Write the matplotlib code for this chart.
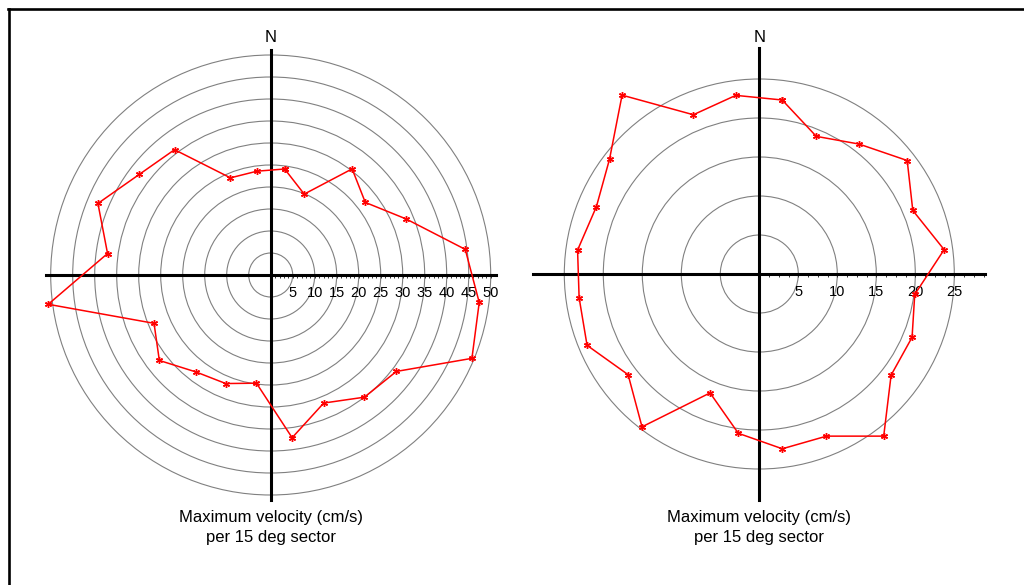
import numpy as np
import matplotlib
matplotlib.use("Agg")
import matplotlib.pyplot as plt
from matplotlib.patches import Circle
from matplotlib.lines import Line2D
import matplotlib.transforms as mtransforms

plt.rcParams['font.family'] = ['Liberation Sans', 'DejaVu Sans']

# sector centres (deg clockwise from N)
bearing = [7.5, 22.5, 37.5, 52.5, 67.5, 82.5, 97.5, 112.5, 127.5, 142.5, 157.5, 172.5,
           187.5, 202.5, 217.5, 232.5, 247.5, 262.5, 277.5, 292.5, 307.5, 322.5, 337.5, 352.5]

# max velocity (cm/s) per sector
vel_left = [24.3, 19.9, 30.4, 27.1, 33.3, 44.6, 47.8, 49.5, 36.0, 35.0, 31.5, 37.3,
            24.8, 26.7, 27.8, 31.9, 28.7, 51.0, 37.4, 42.5, 37.6, 35.9, 23.9, 23.8]
vel_right = [22.5, 19.1, 21.0, 23.9, 21.3, 23.9, 20.1, 21.2, 21.3, 26.2, 22.5, 22.6,
             20.6, 16.5, 24.7, 21.2, 23.9, 23.3, 23.5, 22.6, 24.2, 28.9, 22.1, 23.1]

rings_left = [5, 10, 15, 20, 25, 30, 35, 40, 45, 50]
rings_right = [5, 10, 15, 20, 25]
labels_left = ['5', '10', '15', '20', '25', '30', '35', '40', '45', '50']
labels_right = ['5', '10', '15', '20', '25']

caption = "Maximum velocity (cm/s)\nper 15 deg sector"

W, H = 1024, 585
fig = plt.figure(figsize=(W / 100, H / 100), dpi=100)


def rose(ax, vel, rings, labels, lim, axlen, minor_step, minor_max):
    ax.set_xlim(-lim, lim)
    ax.set_ylim(-lim, lim)
    ax.patch.set_visible(False)

    for r in rings:
        ax.add_patch(Circle((0, 0), r, fill=False, edgecolor='#808080', lw=0.8, zorder=1))

    th = np.deg2rad(bearing + bearing[:1])
    v = np.array(vel + vel[:1])
    ax.plot(v * np.sin(th), v * np.cos(th), color='red', lw=1.1, zorder=4,
            marker=(6, 2, 0), ms=5, mew=1.0, mec='red')

    for s in ['top', 'right']:
        ax.spines[s].set_visible(False)
    for s in ['left', 'bottom']:
        ax.spines[s].set_position('zero')
        ax.spines[s].set_bounds(-axlen, axlen)
        ax.spines[s].set_linewidth(2.2)
        ax.spines[s].set_zorder(3)

    ax.set_yticks([])
    ax.set_xticks(rings)
    ax.set_xticklabels(labels)
    ax.set_xticks(np.arange(minor_step, minor_max + 0.01, minor_step), minor=True)
    ax.tick_params(axis='x', which='both', direction='out', length=2.2, width=0.7,
                   color='#333333', labelsize=10.5, pad=6)


# left rose: 4.4 px per unit, centre at (270.7, 275)
s1, lim1 = 4.4, 55
ax1 = fig.add_axes([(270.7 - s1 * lim1) / W, (H - 275 - s1 * lim1) / H,
                    2 * s1 * lim1 / W, 2 * s1 * lim1 / H])
rose(ax1, vel_left, rings_left, labels_left, lim1, 51.1, 1.0, 50)

# right rose: 7.8 px per unit, centre at (759.3, 274)
s2, lim2 = 7.8, 31
ax2 = fig.add_axes([(759.3 - s2 * lim2) / W, (H - 274 - s2 * lim2) / H,
                    2 * s2 * lim2 / W, 2 * s2 * lim2 / H])
rose(ax2, vel_right, rings_right, labels_right, lim2, 29.0, 1.25, 28.75)

for ax in (ax1, ax2):
    tr = mtransforms.blended_transform_factory(ax.transData, fig.transFigure)
    ax.text(0, (H - 37) / H, 'N', transform=tr, ha='center', va='center', fontsize=12)
    ax.text(0, (H - 510) / H, caption, transform=tr, ha='center', va='top',
            fontsize=12, linespacing=1.4)

# frame lines at top and left
fig.add_artist(Line2D([8.5 / W, 8.5 / W], [0, (H - 8.5) / H], color='black', lw=1.9,
                      transform=fig.transFigure))
fig.add_artist(Line2D([7.5 / W, 1], [(H - 8.5) / H, (H - 8.5) / H], color='black', lw=1.9,
                      transform=fig.transFigure))

fig.savefig('out.png', dpi=100)
